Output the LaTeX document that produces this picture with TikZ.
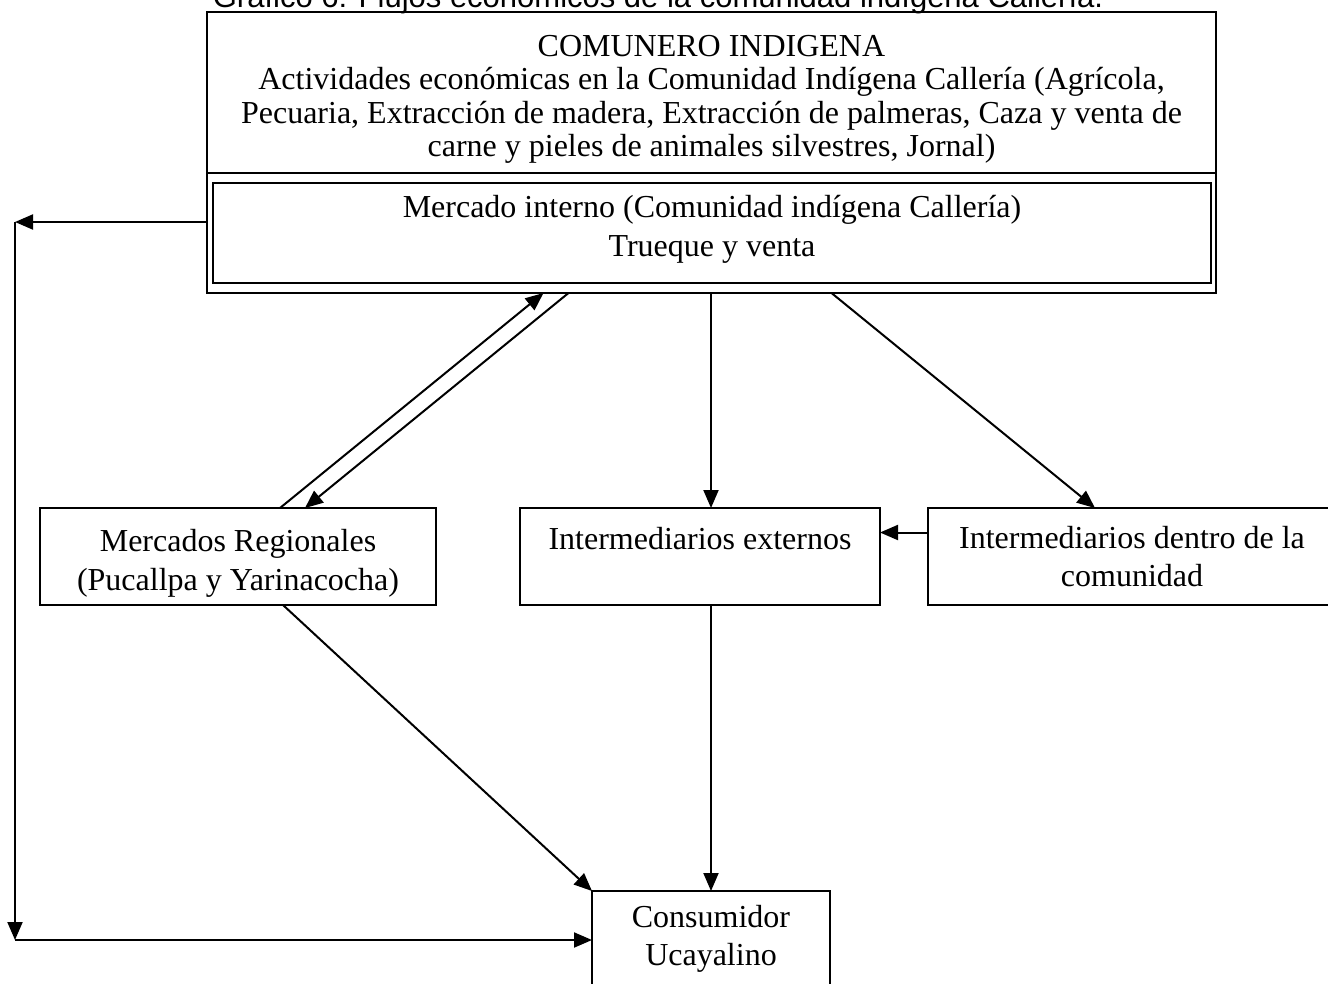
\documentclass[tikz,border=0pt]{standalone}
\usepackage{fontspec}
\setmainfont{Liberation Serif}
\newfontfamily\cfSans{Liberation Sans}
\usepackage{tikz}
\usetikzlibrary{arrows.meta,positioning,fit,calc}

\begin{document}
\begin{tikzpicture}[x=1pt,y=-1pt]
  \path[use as bounding box] (0,0) rectangle (1328,983);

  \tikzset{
    cfCaja/.style={
      draw=black,
      fill=white,
      line width=2pt,
      outer sep=0pt,
      inner sep=0pt,
      align=center,
      font=\fontsize{32}{38}\selectfont
    },
    cfTexto/.style={
      cfCaja,
      draw=none,
      fill=none,
      font=\fontsize{32}{33.5}\selectfont
    },
    cfMarco/.style={
      draw=black,
      line width=2pt,
      inner sep=0pt,
      outer sep=0pt
    },
    cfFlecha/.style={
      -{Triangle[length=18pt,width=15pt]},
      draw=black,
      line width=2pt
    }
  }

  % Titulo del grafico (cortado arriba).
  \node[font=\cfSans\fontsize{31}{36}\selectfont, anchor=base] (titulo) at (658,7)
    {Gráfico 6: Flujos económicos de la comunidad indígena Callería.};

  % Bloque superior: comunero y mercado interno.
  \node[cfTexto, anchor=north, inner ysep=23] (comunero) at (711.5,12)
    {COMUNERO INDIGENA\\
     Actividades económicas en la Comunidad Indígena Callería (Agrícola,\\
     Pecuaria, Extracción de madera, Extracción de palmeras, Caza y venta de\\
     carne y pieles de animales silvestres, Jornal)};
  \node[cfCaja, anchor=north west, minimum width=998, minimum height=100,
        font=\fontsize{32}{39}\selectfont]
    (mercado) at (213,183)
    {Mercado interno (Comunidad indígena Callería)\\
     Trueque y venta\rule[-15pt]{0pt}{15pt}};
  \coordinate (marcoSup) at (207,12);
  \coordinate (marcoBase) at (1216,293);
  \coordinate (corte) at (0,173);
  \node[cfMarco, fit=(marcoSup)(marcoBase)] (marco) {};
  \draw[line width=2pt] (marco.west |- corte) -- (marco.east |- corte);

  % Nivel intermedio.
  \node[cfCaja, anchor=north west, minimum width=396, minimum height=97,
        font=\fontsize{32}{39}\selectfont]
    (mercados) at (40,508)
    {\rule{0pt}{35pt}Mercados Regionales\\(Pucallpa y Yarinacocha)};
  \node[cfCaja, anchor=north west, minimum width=360, minimum height=97,
        text depth=36pt]
    (externos) at (520,508) {Intermediarios externos};
  \node[cfCaja, anchor=north west, minimum width=408, minimum height=97]
    (dentro) at (928,508) {Intermediarios dentro de la\\comunidad};

  % Destino final.
  \node[cfCaja, anchor=north, minimum width=238, inner ysep=14]
    (consumidor) at (711,891) {Consumidor\\Ucayalino\\\strut};

  % Flujos.
  \coordinate (esqSup) at (15,222);
  \coordinate (esqInf) at (15,940);
  \draw[cfFlecha] (marco.west |- esqSup) -- (esqSup);
  \draw[cfFlecha] (esqSup) -- (esqInf);
  \draw[cfFlecha] (esqInf) -- (consumidor.west |- esqInf);

  \draw[cfFlecha] ([xshift=42]mercados.north) -- ([xshift=-168]marco.south);
  \draw[cfFlecha] ([xshift=-143]marco.south) -- ([xshift=67]mercados.north);
  \draw[cfFlecha] (marco.south -| consumidor.north) -- (externos.north -| consumidor.north);
  \draw[cfFlecha] ([xshift=120]marco.south) -- ([xshift=-37]dentro.north);
  \draw[cfFlecha] ([yshift=24]dentro.west) -- ([yshift=24]externos.east);

  \draw[cfFlecha] ([xshift=45]mercados.south) -- (consumidor.north west);
  \draw[cfFlecha] (externos.south -| consumidor.north) -- (consumidor.north);
\end{tikzpicture}
\end{document}
